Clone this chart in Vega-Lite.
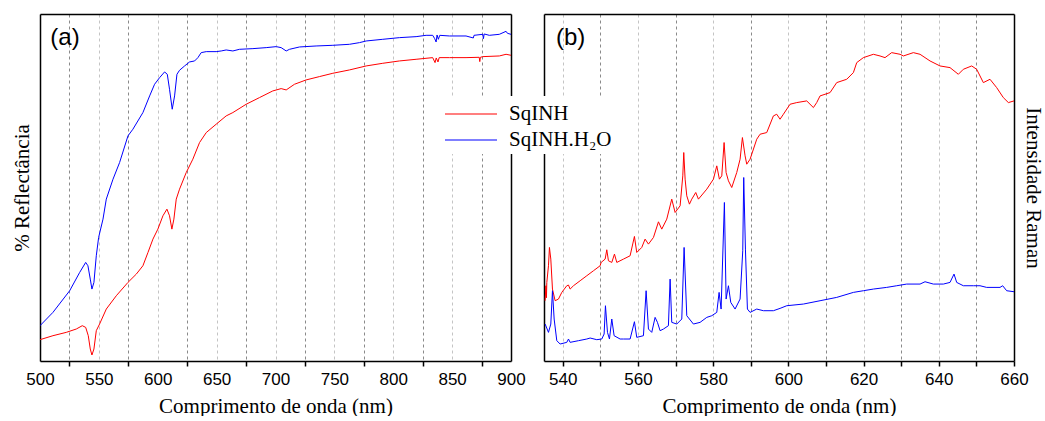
{
  "$schema": "https://vega.github.io/schema/vega-lite/v6.json",
  "padding": {"left": 11, "top": 14, "right": 2, "bottom": 0},
  "background": "white",
  "bounds": "flush",
  "spacing": 33,
  "resolve": {"scale": {"color": "independent"}, "legend": {"color": "independent"}},
  "datasets": {
    "refl": [
      {"nm":500,"v":106,"s":"SqINH.H₂O"},{"nm":511,"v":146,"s":"SqINH.H₂O"},{"nm":525.2,"v":211,"s":"SqINH.H₂O"},{"nm":533.7,"v":266,"s":"SqINH.H₂O"},{"nm":538.8,"v":296,"s":"SqINH.H₂O"},{"nm":540.7,"v":286,"s":"SqINH.H₂O"},{"nm":542.7,"v":246,"s":"SqINH.H₂O"},{"nm":544.1,"v":216,"s":"SqINH.H₂O"},{"nm":545.8,"v":236,"s":"SqINH.H₂O"},{"nm":547.8,"v":316,"s":"SqINH.H₂O"},{"nm":549.8,"v":371,"s":"SqINH.H₂O"},{"nm":553.5,"v":426,"s":"SqINH.H₂O"},{"nm":556.3,"v":486,"s":"SqINH.H₂O"},{"nm":562,"v":546,"s":"SqINH.H₂O"},{"nm":567.6,"v":596,"s":"SqINH.H₂O"},{"nm":574.7,"v":676,"s":"SqINH.H₂O"},{"nm":578.9,"v":696,"s":"SqINH.H₂O"},{"nm":587.4,"v":746,"s":"SqINH.H₂O"},{"nm":593.1,"v":796,"s":"SqINH.H₂O"},{"nm":597.3,"v":831,"s":"SqINH.H₂O"},{"nm":601.6,"v":851,"s":"SqINH.H₂O"},{"nm":605.8,"v":868,"s":"SqINH.H₂O"},{"nm":608.1,"v":861,"s":"SqINH.H₂O"},{"nm":610,"v":816,"s":"SqINH.H₂O"},{"nm":612.3,"v":756,"s":"SqINH.H₂O"},{"nm":614.3,"v":796,"s":"SqINH.H₂O"},{"nm":616.3,"v":861,"s":"SqINH.H₂O"},{"nm":618.5,"v":873,"s":"SqINH.H₂O"},{"nm":622.8,"v":886,"s":"SqINH.H₂O"},{"nm":627,"v":898,"s":"SqINH.H₂O"},{"nm":631.3,"v":901,"s":"SqINH.H₂O"},{"nm":634.1,"v":911,"s":"SqINH.H₂O"},{"nm":636.9,"v":926,"s":"SqINH.H₂O"},{"nm":641.2,"v":929,"s":"SqINH.H₂O"},{"nm":649.6,"v":929,"s":"SqINH.H₂O"},{"nm":653.9,"v":931,"s":"SqINH.H₂O"},{"nm":658.1,"v":934,"s":"SqINH.H₂O"},{"nm":663.8,"v":931,"s":"SqINH.H₂O"},{"nm":669.4,"v":936,"s":"SqINH.H₂O"},{"nm":680.8,"v":938,"s":"SqINH.H₂O"},{"nm":692.1,"v":941,"s":"SqINH.H₂O"},{"nm":700.6,"v":944,"s":"SqINH.H₂O"},{"nm":704.8,"v":941,"s":"SqINH.H₂O"},{"nm":709.1,"v":931,"s":"SqINH.H₂O"},{"nm":711.9,"v":936,"s":"SqINH.H₂O"},{"nm":720.4,"v":943,"s":"SqINH.H₂O"},{"nm":734.5,"v":946,"s":"SqINH.H₂O"},{"nm":748.7,"v":948,"s":"SqINH.H₂O"},{"nm":762.8,"v":951,"s":"SqINH.H₂O"},{"nm":771.3,"v":956,"s":"SqINH.H₂O"},{"nm":777,"v":961,"s":"SqINH.H₂O"},{"nm":791.1,"v":966,"s":"SqINH.H₂O"},{"nm":805.2,"v":971,"s":"SqINH.H₂O"},{"nm":819.4,"v":974,"s":"SqINH.H₂O"},{"nm":827.9,"v":978,"s":"SqINH.H₂O"},{"nm":833.5,"v":978,"s":"SqINH.H₂O"},{"nm":835.2,"v":968,"s":"SqINH.H₂O"},{"nm":836.4,"v":958,"s":"SqINH.H₂O"},{"nm":837.2,"v":979,"s":"SqINH.H₂O"},{"nm":838.3,"v":966,"s":"SqINH.H₂O"},{"nm":839.5,"v":978,"s":"SqINH.H₂O"},{"nm":847.7,"v":976,"s":"SqINH.H₂O"},{"nm":861.8,"v":976,"s":"SqINH.H₂O"},{"nm":868,"v":970,"s":"SqINH.H₂O"},{"nm":868.6,"v":978,"s":"SqINH.H₂O"},{"nm":876,"v":981,"s":"SqINH.H₂O"},{"nm":876.6,"v":968,"s":"SqINH.H₂O"},{"nm":877.2,"v":982,"s":"SqINH.H₂O"},{"nm":881.6,"v":978,"s":"SqINH.H₂O"},{"nm":890.1,"v":981,"s":"SqINH.H₂O"},{"nm":895.8,"v":990,"s":"SqINH.H₂O"},{"nm":897,"v":984,"s":"SqINH.H₂O"},{"nm":900,"v":981,"s":"SqINH.H₂O"},
      {"nm":500,"v":64,"s":"SqINH"},{"nm":511,"v":76,"s":"SqINH"},{"nm":522.3,"v":86,"s":"SqINH"},{"nm":530.8,"v":96,"s":"SqINH"},{"nm":535.9,"v":106,"s":"SqINH"},{"nm":538.8,"v":101,"s":"SqINH"},{"nm":541,"v":76,"s":"SqINH"},{"nm":542.7,"v":36,"s":"SqINH"},{"nm":544.1,"v":18,"s":"SqINH"},{"nm":545.8,"v":36,"s":"SqINH"},{"nm":547.8,"v":91,"s":"SqINH"},{"nm":550.6,"v":111,"s":"SqINH"},{"nm":556.3,"v":156,"s":"SqINH"},{"nm":564.8,"v":196,"s":"SqINH"},{"nm":574.7,"v":236,"s":"SqINH"},{"nm":581.8,"v":261,"s":"SqINH"},{"nm":587.4,"v":286,"s":"SqINH"},{"nm":591.7,"v":326,"s":"SqINH"},{"nm":595.9,"v":366,"s":"SqINH"},{"nm":600.1,"v":396,"s":"SqINH"},{"nm":604.4,"v":436,"s":"SqINH"},{"nm":607.8,"v":456,"s":"SqINH"},{"nm":610,"v":436,"s":"SqINH"},{"nm":612,"v":396,"s":"SqINH"},{"nm":613.7,"v":426,"s":"SqINH"},{"nm":615.7,"v":486,"s":"SqINH"},{"nm":618.5,"v":516,"s":"SqINH"},{"nm":624.2,"v":566,"s":"SqINH"},{"nm":629.8,"v":606,"s":"SqINH"},{"nm":635.5,"v":656,"s":"SqINH"},{"nm":641.2,"v":686,"s":"SqINH"},{"nm":649.6,"v":711,"s":"SqINH"},{"nm":658.1,"v":736,"s":"SqINH"},{"nm":663.8,"v":746,"s":"SqINH"},{"nm":675.1,"v":771,"s":"SqINH"},{"nm":686.4,"v":791,"s":"SqINH"},{"nm":697.7,"v":811,"s":"SqINH"},{"nm":704.8,"v":818,"s":"SqINH"},{"nm":709.1,"v":814,"s":"SqINH"},{"nm":716.1,"v":831,"s":"SqINH"},{"nm":726,"v":844,"s":"SqINH"},{"nm":737.3,"v":854,"s":"SqINH"},{"nm":748.7,"v":864,"s":"SqINH"},{"nm":762.8,"v":874,"s":"SqINH"},{"nm":777,"v":886,"s":"SqINH"},{"nm":791.1,"v":894,"s":"SqINH"},{"nm":805.2,"v":901,"s":"SqINH"},{"nm":819.4,"v":906,"s":"SqINH"},{"nm":833.5,"v":911,"s":"SqINH"},{"nm":835.5,"v":896,"s":"SqINH"},{"nm":836.5,"v":910,"s":"SqINH"},{"nm":838,"v":898,"s":"SqINH"},{"nm":839,"v":911,"s":"SqINH"},{"nm":847.7,"v":911,"s":"SqINH"},{"nm":861.8,"v":911,"s":"SqINH"},{"nm":873,"v":912,"s":"SqINH"},{"nm":873.5,"v":899,"s":"SqINH"},{"nm":874,"v":912,"s":"SqINH"},{"nm":876,"v":914,"s":"SqINH"},{"nm":890.1,"v":916,"s":"SqINH"},{"nm":895.8,"v":921,"s":"SqINH"},{"nm":900,"v":918,"s":"SqINH"}
    ],
    "raman": [
      {"nm":535.3,"v":181,"s":"SqINH"},{"nm":535.5,"v":226,"s":"SqINH"},{"nm":535.65,"v":190,"s":"SqINH"},{"nm":535.75,"v":236,"s":"SqINH"},{"nm":536.19,"v":286,"s":"SqINH"},{"nm":536.45,"v":341,"s":"SqINH"},{"nm":536.81,"v":306,"s":"SqINH"},{"nm":537.25,"v":216,"s":"SqINH"},{"nm":537.96,"v":181,"s":"SqINH"},{"nm":538.85,"v":186,"s":"SqINH"},{"nm":539.73,"v":206,"s":"SqINH"},{"nm":541.06,"v":226,"s":"SqINH"},{"nm":541.51,"v":228,"s":"SqINH"},{"nm":541.95,"v":216,"s":"SqINH"},{"nm":542.84,"v":226,"s":"SqINH"},{"nm":544.61,"v":241,"s":"SqINH"},{"nm":546.38,"v":256,"s":"SqINH"},{"nm":548.15,"v":271,"s":"SqINH"},{"nm":549.93,"v":286,"s":"SqINH"},{"nm":550.19,"v":296,"s":"SqINH"},{"nm":551.26,"v":306,"s":"SqINH"},{"nm":551.7,"v":334,"s":"SqINH"},{"nm":552.14,"v":301,"s":"SqINH"},{"nm":553.03,"v":296,"s":"SqINH"},{"nm":553.74,"v":321,"s":"SqINH"},{"nm":554.36,"v":296,"s":"SqINH"},{"nm":556.13,"v":306,"s":"SqINH"},{"nm":557.9,"v":316,"s":"SqINH"},{"nm":559.05,"v":374,"s":"SqINH"},{"nm":559.67,"v":326,"s":"SqINH"},{"nm":561,"v":341,"s":"SqINH"},{"nm":561.89,"v":366,"s":"SqINH"},{"nm":562.78,"v":351,"s":"SqINH"},{"nm":564.11,"v":371,"s":"SqINH"},{"nm":565.44,"v":418,"s":"SqINH"},{"nm":566.32,"v":396,"s":"SqINH"},{"nm":567.65,"v":426,"s":"SqINH"},{"nm":568.98,"v":486,"s":"SqINH"},{"nm":569.87,"v":446,"s":"SqINH"},{"nm":571.2,"v":466,"s":"SqINH"},{"nm":571.91,"v":556,"s":"SqINH"},{"nm":572.17,"v":626,"s":"SqINH"},{"nm":572.53,"v":546,"s":"SqINH"},{"nm":572.97,"v":496,"s":"SqINH"},{"nm":573.68,"v":471,"s":"SqINH"},{"nm":574.3,"v":486,"s":"SqINH"},{"nm":575.36,"v":506,"s":"SqINH"},{"nm":576.07,"v":486,"s":"SqINH"},{"nm":578.29,"v":516,"s":"SqINH"},{"nm":580.06,"v":546,"s":"SqINH"},{"nm":580.95,"v":586,"s":"SqINH"},{"nm":581.65,"v":546,"s":"SqINH"},{"nm":582.28,"v":556,"s":"SqINH"},{"nm":582.9,"v":656,"s":"SqINH"},{"nm":583.43,"v":566,"s":"SqINH"},{"nm":584.05,"v":541,"s":"SqINH"},{"nm":584.93,"v":521,"s":"SqINH"},{"nm":586.26,"v":566,"s":"SqINH"},{"nm":587.15,"v":606,"s":"SqINH"},{"nm":587.77,"v":671,"s":"SqINH"},{"nm":588.48,"v":616,"s":"SqINH"},{"nm":588.92,"v":591,"s":"SqINH"},{"nm":589.81,"v":606,"s":"SqINH"},{"nm":591.58,"v":666,"s":"SqINH"},{"nm":592.47,"v":681,"s":"SqINH"},{"nm":594.24,"v":686,"s":"SqINH"},{"nm":596.01,"v":736,"s":"SqINH"},{"nm":596.9,"v":741,"s":"SqINH"},{"nm":597.78,"v":726,"s":"SqINH"},{"nm":598.67,"v":741,"s":"SqINH"},{"nm":600.44,"v":771,"s":"SqINH"},{"nm":602.22,"v":776,"s":"SqINH"},{"nm":604.87,"v":781,"s":"SqINH"},{"nm":606.65,"v":761,"s":"SqINH"},{"nm":607.53,"v":776,"s":"SqINH"},{"nm":608.42,"v":796,"s":"SqINH"},{"nm":611.08,"v":806,"s":"SqINH"},{"nm":612.85,"v":836,"s":"SqINH"},{"nm":615.51,"v":846,"s":"SqINH"},{"nm":617.28,"v":866,"s":"SqINH"},{"nm":618.17,"v":896,"s":"SqINH"},{"nm":619.94,"v":911,"s":"SqINH"},{"nm":622.6,"v":921,"s":"SqINH"},{"nm":624.37,"v":916,"s":"SqINH"},{"nm":625.7,"v":911,"s":"SqINH"},{"nm":627.47,"v":926,"s":"SqINH"},{"nm":629.69,"v":921,"s":"SqINH"},{"nm":630.58,"v":916,"s":"SqINH"},{"nm":633.23,"v":926,"s":"SqINH"},{"nm":635.01,"v":921,"s":"SqINH"},{"nm":637.67,"v":901,"s":"SqINH"},{"nm":640.32,"v":886,"s":"SqINH"},{"nm":642.98,"v":881,"s":"SqINH"},{"nm":645.2,"v":861,"s":"SqINH"},{"nm":646.53,"v":876,"s":"SqINH"},{"nm":648.75,"v":886,"s":"SqINH"},{"nm":650.07,"v":876,"s":"SqINH"},{"nm":651.85,"v":836,"s":"SqINH"},{"nm":653.62,"v":846,"s":"SqINH"},{"nm":655.39,"v":821,"s":"SqINH"},{"nm":657.16,"v":791,"s":"SqINH"},{"nm":658.5,"v":776,"s":"SqINH"},{"nm":660,"v":781,"s":"SqINH"},
      {"nm":535.3,"v":111,"s":"SqINH.H₂O"},{"nm":536.19,"v":86,"s":"SqINH.H₂O"},{"nm":536.81,"v":111,"s":"SqINH.H₂O"},{"nm":537.25,"v":211,"s":"SqINH.H₂O"},{"nm":537.7,"v":126,"s":"SqINH.H₂O"},{"nm":538.4,"v":61,"s":"SqINH.H₂O"},{"nm":539.29,"v":51,"s":"SqINH.H₂O"},{"nm":541.06,"v":56,"s":"SqINH.H₂O"},{"nm":541.51,"v":66,"s":"SqINH.H₂O"},{"nm":541.95,"v":56,"s":"SqINH.H₂O"},{"nm":544.17,"v":61,"s":"SqINH.H₂O"},{"nm":546.38,"v":66,"s":"SqINH.H₂O"},{"nm":547.27,"v":69,"s":"SqINH.H₂O"},{"nm":549.04,"v":64,"s":"SqINH.H₂O"},{"nm":550.37,"v":66,"s":"SqINH.H₂O"},{"nm":550.99,"v":81,"s":"SqINH.H₂O"},{"nm":551.34,"v":166,"s":"SqINH.H₂O"},{"nm":551.88,"v":86,"s":"SqINH.H₂O"},{"nm":552.41,"v":66,"s":"SqINH.H₂O"},{"nm":553.03,"v":126,"s":"SqINH.H₂O"},{"nm":553.65,"v":76,"s":"SqINH.H₂O"},{"nm":555.24,"v":66,"s":"SqINH.H₂O"},{"nm":556.13,"v":66,"s":"SqINH.H₂O"},{"nm":557.9,"v":66,"s":"SqINH.H₂O"},{"nm":559.05,"v":118,"s":"SqINH.H₂O"},{"nm":559.67,"v":71,"s":"SqINH.H₂O"},{"nm":561.45,"v":76,"s":"SqINH.H₂O"},{"nm":562.16,"v":211,"s":"SqINH.H₂O"},{"nm":562.78,"v":96,"s":"SqINH.H₂O"},{"nm":563.66,"v":86,"s":"SqINH.H₂O"},{"nm":564.55,"v":131,"s":"SqINH.H₂O"},{"nm":565.17,"v":116,"s":"SqINH.H₂O"},{"nm":565.88,"v":91,"s":"SqINH.H₂O"},{"nm":566.77,"v":96,"s":"SqINH.H₂O"},{"nm":568.09,"v":106,"s":"SqINH.H₂O"},{"nm":568.54,"v":246,"s":"SqINH.H₂O"},{"nm":568.98,"v":116,"s":"SqINH.H₂O"},{"nm":570.31,"v":111,"s":"SqINH.H₂O"},{"nm":571.64,"v":126,"s":"SqINH.H₂O"},{"nm":572.26,"v":341,"s":"SqINH.H₂O"},{"nm":572.97,"v":136,"s":"SqINH.H₂O"},{"nm":574.74,"v":111,"s":"SqINH.H₂O"},{"nm":576.51,"v":116,"s":"SqINH.H₂O"},{"nm":578.29,"v":131,"s":"SqINH.H₂O"},{"nm":579.62,"v":136,"s":"SqINH.H₂O"},{"nm":580.95,"v":146,"s":"SqINH.H₂O"},{"nm":581.57,"v":206,"s":"SqINH.H₂O"},{"nm":582.1,"v":156,"s":"SqINH.H₂O"},{"nm":582.98,"v":476,"s":"SqINH.H₂O"},{"nm":583.43,"v":186,"s":"SqINH.H₂O"},{"nm":584.05,"v":226,"s":"SqINH.H₂O"},{"nm":584.67,"v":176,"s":"SqINH.H₂O"},{"nm":585.82,"v":156,"s":"SqINH.H₂O"},{"nm":587.15,"v":186,"s":"SqINH.H₂O"},{"nm":587.86,"v":331,"s":"SqINH.H₂O"},{"nm":588.12,"v":551,"s":"SqINH.H₂O"},{"nm":588.57,"v":336,"s":"SqINH.H₂O"},{"nm":589.1,"v":156,"s":"SqINH.H₂O"},{"nm":589.81,"v":146,"s":"SqINH.H₂O"},{"nm":591.58,"v":156,"s":"SqINH.H₂O"},{"nm":593.35,"v":151,"s":"SqINH.H₂O"},{"nm":596.01,"v":151,"s":"SqINH.H₂O"},{"nm":597.78,"v":158,"s":"SqINH.H₂O"},{"nm":599.56,"v":166,"s":"SqINH.H₂O"},{"nm":603.99,"v":171,"s":"SqINH.H₂O"},{"nm":608.42,"v":181,"s":"SqINH.H₂O"},{"nm":612.85,"v":191,"s":"SqINH.H₂O"},{"nm":617.28,"v":206,"s":"SqINH.H₂O"},{"nm":619.94,"v":211,"s":"SqINH.H₂O"},{"nm":622.6,"v":216,"s":"SqINH.H₂O"},{"nm":626.14,"v":221,"s":"SqINH.H₂O"},{"nm":628.8,"v":226,"s":"SqINH.H₂O"},{"nm":631.46,"v":231,"s":"SqINH.H₂O"},{"nm":635.01,"v":231,"s":"SqINH.H₂O"},{"nm":636.34,"v":238,"s":"SqINH.H₂O"},{"nm":638.55,"v":231,"s":"SqINH.H₂O"},{"nm":641.21,"v":231,"s":"SqINH.H₂O"},{"nm":642.98,"v":236,"s":"SqINH.H₂O"},{"nm":644.05,"v":261,"s":"SqINH.H₂O"},{"nm":644.76,"v":236,"s":"SqINH.H₂O"},{"nm":646.53,"v":226,"s":"SqINH.H₂O"},{"nm":649.19,"v":226,"s":"SqINH.H₂O"},{"nm":650.96,"v":226,"s":"SqINH.H₂O"},{"nm":652.73,"v":221,"s":"SqINH.H₂O"},{"nm":656.28,"v":221,"s":"SqINH.H₂O"},{"nm":656.99,"v":226,"s":"SqINH.H₂O"},{"nm":658.05,"v":211,"s":"SqINH.H₂O"},{"nm":660,"v":208,"s":"SqINH.H₂O"}
    ]
  },
  "hconcat": [
    {
      "width": 471,
      "height": 347,
      "layer": [
        {
          "data": {"name": "refl"},
          "mark": {"type": "line", "strokeWidth": 1, "clip": true},
          "encoding": {
            "x": {"field": "nm", "type": "quantitative",
              "scale": {"domain": [500, 900], "nice": false, "zero": false},
              "axis": {"orient": "bottom", "title": "Comprimento de onda (nm)",
                "values": [500,525,550,575,600,625,650,675,700,725,750,775,800,825,850,875,900],
                "labelExpr": "datum.value % 50 == 0 ? datum.label : ''",
                "labelFlush": false,
                "tickOpacity": {"condition": {"test": "datum.value % 50 == 0", "value": 0}, "value": 1},
                "grid": true,
                "gridColor": {"condition": {"test": "datum.value % 50 == 0", "value": "#c4c4c4"}, "value": "#8a8a8a"},
                "gridOpacity": {"condition": {"test": "datum.value == 500 || datum.value == 900", "value": 0}, "value": 1},
                "labelPadding": 5, "titlePadding": 8}},
            "y": {"field": "v", "type": "quantitative",
              "scale": {"domain": [0, 1042], "nice": false, "zero": false},
              "axis": {"orient": "left", "title": "% Reflectância", "labels": false, "ticks": false, "grid": false, "titlePadding": 8}},
            "color": {"field": "s", "type": "nominal",
              "scale": {"domain": ["SqINH", "SqINH.H₂O"], "range": ["#ff0000", "#0000ff"]},
              "legend": null}
          }
        },
        {
          "data": {"values": [{"label": "(a)"}]},
          "mark": {"type": "text", "font": "Liberation Sans", "fontSize": 24, "align": "left", "baseline": "middle", "color": "black"},
          "encoding": {
            "text": {"field": "label"},
            "x": {"datum": 508.8, "type": "quantitative",
              "axis": {"orient": "top", "labels": false, "ticks": false, "grid": false, "title": null}},
            "y": {"datum": 969, "type": "quantitative",
              "axis": {"orient": "right", "labels": false, "ticks": false, "grid": false, "title": null}}
          }
        }
      ],
      "resolve": {"axis": {"x": "independent", "y": "independent"}}
    },
    {
      "width": 470,
      "height": 347,
      "layer": [
        {
          "data": {"name": "raman"},
          "mark": {"type": "line", "strokeWidth": 1, "clip": true},
          "encoding": {
            "x": {"field": "nm", "type": "quantitative",
              "scale": {"domain": [535, 660], "nice": false, "zero": false},
              "axis": {"orient": "bottom", "title": "Comprimento de onda (nm)",
                "values": [540,550,560,570,580,590,600,610,620,630,640,650,660],
                "labelExpr": "datum.value % 20 == 0 ? datum.label : ''",
                "labelFlush": false,
                "grid": true,
                "gridColor": {"condition": {"test": "datum.value % 20 == 0", "value": "#c4c4c4"}, "value": "#8a8a8a"},
                "gridOpacity": {"condition": {"test": "datum.value == 660", "value": 0}, "value": 1},
                "labelPadding": 5, "titlePadding": 8}},
            "y": {"field": "v", "type": "quantitative",
              "scale": {"domain": [0, 1042], "nice": false, "zero": false},
              "axis": {"orient": "left", "title": null, "labels": false, "ticks": false, "grid": false}},
            "color": {"field": "s", "type": "nominal",
              "scale": {"domain": ["SqINH", "SqINH.H₂O"], "range": ["#ff0000", "#0000ff"]},
              "legend": {"orient": "none", "legendX": -104, "legendY": 82, "title": null,
                "symbolType": "M-1,0H3", "symbolSize": 676, "symbolStrokeWidth": 1.2,
                "labelFont": "Liberation Serif", "labelFontSize": 21, "labelColor": "black",
                "labelOffset": 37, "labelLimit": 300, "padding": 4, "fillColor": "white",
                "rowPadding": 2}}
          }
        },
        {
          "data": {"values": [{"label": "(b)"}]},
          "mark": {"type": "text", "font": "Liberation Sans", "fontSize": 24, "align": "left", "baseline": "middle", "color": "black"},
          "encoding": {
            "text": {"field": "label"},
            "x": {"datum": 538.2, "type": "quantitative",
              "axis": {"orient": "top", "labels": false, "ticks": false, "grid": false, "title": null}},
            "y": {"datum": 969, "type": "quantitative",
              "axis": {"orient": "right", "labels": false, "ticks": false, "grid": false, "title": "Intensidade Raman", "titlePadding": 8}}
          }
        }
      ],
      "resolve": {"axis": {"x": "independent", "y": "independent"}}
    }
  ],
  "config": {
    "view": {"stroke": null},
    "axis": {
      "domainColor": "black", "domainWidth": 1.5,
      "tickColor": "black", "tickWidth": 1.5, "tickSize": 5,
      "labelFont": "Liberation Sans", "labelFontSize": 17, "labelColor": "black",
      "titleFont": "Liberation Serif", "titleFontSize": 21, "titleFontWeight": "normal", "titleColor": "black",
      "gridDash": [3, 3], "gridWidth": 1
    }
  }
}
